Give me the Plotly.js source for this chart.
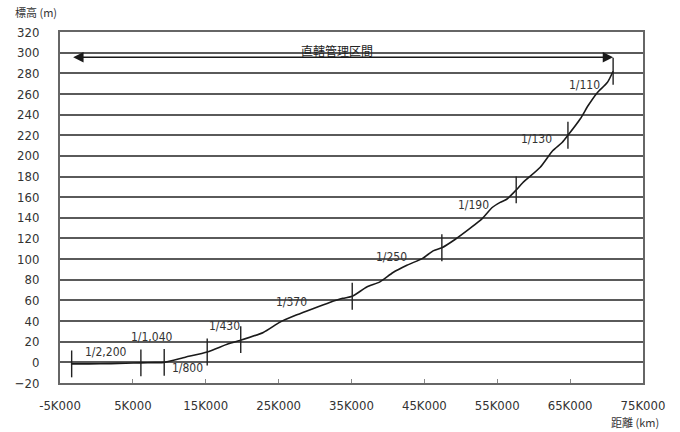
<!DOCTYPE html>
<html>
<head>
<meta charset="utf-8">
<script src="https://cdn.plot.ly/plotly-3.0.1.min.js"></script>
<style>html,body{margin:0;padding:0;background:#fff;}#chart{width:680px;height:432px;}</style>
</head>
<body>
<div id="chart"></div>
<script>
// Longitudinal profile: distance (km) vs elevation (m)
const profileKm   = [-3.5,-1,2,4,6.1,8,9.3,12.2,15.2,18.1,19.8,22.9,25.2,27.5,29.7,32.0,33.8,35.1,37.1,38.9,40.7,42.6,44.8,46.2,47.4,49.2,51.3,52.9,54.3,55.4,56.3,57.6,58.5,60.9,62.6,63.9,64.7,66.4,67.5,68.7,70.1,70.9];
const profileElev = [-1.5,-1.5,-1.2,-0.8,-0.5,-0.3,0,5,10,18,21.5,29,39,46,52,58,62,64,73,78,87,94,101,108,111,119,130,139,150,155,158,167,174,189,205,213,220,236,249,261,271,282];

// Gradient break points (vertical marks)
const breakKm   = [-3.4,6.1,9.3,15.2,19.8,35.1,47.4,57.6,64.7,70.9];
const breakElev = [-1.5,-0.5,0,10,22,64,111,167,220,282];

// Gradient labels
const gradeLabels = ["1/2,200","1/1,040","1/800","1/430","1/370","1/250","1/190","1/130","1/110"];
const gradeKm     = [1.3,7.6,12.5,17.6,26.8,40.5,51.8,60.4,67.0];
const gradeElev   = [10,25,-5,35.5,58,102,152,216,269];

// Managed section
const sectionLabel = "直轄管理区間";
const sectionStartKm = -3.4, sectionEndKm = 70.9, sectionElev = 295.5;
const sectionLabelKm = 33, sectionLabelElev = 302;

// Axis ticks
const xTickVals = [-5,5,15,25,35,45,55,65,75];
const xTickText = ["-5K000","5K000","15K000","25K000","35K000","45K000","55K000","65K000","75K000"];
const yTickVals = [-20,0,20,40,60,80,100,120,140,160,180,200,220,240,260,280,300,320];

const FONT = "'DejaVu Sans Condensed', 'Liberation Sans Narrow', 'Liberation Sans', sans-serif";
const JFONT = "'Noto Sans CJK JP', sans-serif";
const HALF = 13;

const mx = [], my = [];
breakKm.forEach((k, i) => {
  mx.push(k, k, null);
  my.push(breakElev[i] - HALF, breakElev[i] + HALF, null);
});

const traces = [
  {x: profileKm, y: profileElev, mode: 'lines', type: 'scatter',
   line: {color: '#1a1a1a', width: 1.6, shape: 'spline', smoothing: 0.6}, hoverinfo: 'skip'},
  {x: mx, y: my, mode: 'lines', type: 'scatter',
   line: {color: '#222', width: 1.4}, hoverinfo: 'skip'}
];

const annotations = gradeLabels.map((t, i) => ({
  x: gradeKm[i], y: gradeElev[i], xref: 'x', yref: 'y', text: t,
  showarrow: false, font: {family: FONT, size: 12, color: '#333'}
}));

annotations.push({
  x: sectionEndKm, y: sectionElev, ax: sectionStartKm, ay: sectionElev,
  xref: 'x', yref: 'y', axref: 'x', ayref: 'y', text: '',
  showarrow: true, arrowside: 'end+start', arrowhead: 2, arrowsize: 1.3,
  arrowwidth: 1.6, arrowcolor: '#1a1a1a', standoff: 0, startstandoff: 0
});
annotations.push({
  x: sectionLabelKm, y: sectionLabelElev, xref: 'x', yref: 'y', text: sectionLabel,
  showarrow: false, font: {family: JFONT, size: 12, color: '#222'}
});
annotations.push({
  x: -0.081, y: 1.058, xref: 'paper', yref: 'paper', xanchor: 'left', yanchor: 'middle',
  text: '標高 (m)', showarrow: false, font: {family: JFONT, size: 11, color: '#333'}
});
annotations.push({
  x: 0.986, y: -0.112, xref: 'paper', yref: 'paper', xanchor: 'center', yanchor: 'middle',
  text: '距離 (km)', showarrow: false, font: {family: JFONT, size: 11, color: '#333'}
});

const layout = {
  width: 680, height: 432,
  margin: {l: 60, r: 37, t: 32, b: 49},
  paper_bgcolor: '#fff', plot_bgcolor: '#fff',
  showlegend: false,
  xaxis: {
    range: [-5, 75], tickvals: xTickVals, ticktext: xTickText,
    showgrid: false, zeroline: false,
    showline: true, mirror: true, linecolor: '#666', linewidth: 2,
    ticks: 'inside', ticklen: 4, tickcolor: '#888',
    ticklabelstandoff: 9,
    tickfont: {family: FONT, size: 13, color: '#333'}
  },
  yaxis: {
    range: [-20, 320], tickvals: yTickVals,
    showgrid: true, gridcolor: '#5a5a5a', gridwidth: 2,
    zeroline: false,
    showline: true, mirror: true, linecolor: '#666', linewidth: 2,
    ticks: '', ticklabelstandoff: 16,
    tickfont: {family: FONT, size: 13, color: '#333'}
  },
  annotations: annotations
};

Plotly.newPlot('chart', traces, layout, {displayModeBar: false, staticPlot: true});
</script>
</body>
</html>
